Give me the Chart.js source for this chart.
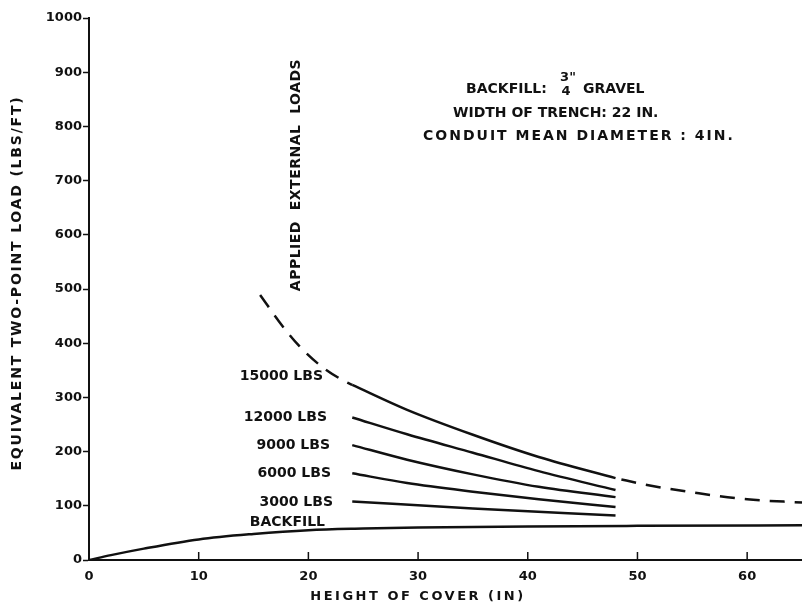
<!DOCTYPE html>
<html>
<head>
<meta charset="utf-8">
<script src="https://cdn.jsdelivr.net/npm/chart.js@4.4.1/dist/chart.umd.min.js"></script>
<style>
  body { margin: 0; background: #fff; }
  #wrap { width: 802px; height: 606px; }
</style>
</head>
<body>
<div id="wrap"><canvas id="loadChart" width="802" height="606"></canvas></div>
<script>
// height of cover (in) vs equivalent two-point load (lbs/ft)
const backfillX = [0, 2, 5, 10, 15, 20, 25, 30, 40, 50, 65];
const backfillY = [0, 9, 21, 38, 48, 55, 58, 60, 62, 63, 64];

// 15000 lbs curve - dashed outside the 24..48 in range
const load15000X = [15.6, 17.7, 19.2, 21.2, 23.1, 24, 29, 35, 41, 48, 51, 55.6, 60, 65];
const load15000Y = [489, 430, 394, 357, 332, 323, 277, 231, 190, 151, 138, 123, 112, 106];

const coverX = [24, 29, 35, 41, 48];
const load12000Y = [263, 232, 198, 164, 129];
const load9000Y = [212, 185, 158, 135, 116];
const load6000Y = [160, 142, 126, 112, 98];
const load3000X = [24, 35, 48];
const load3000Y = [108, 95, 82];

const xTicks = [0, 10, 20, 30, 40, 50, 60];
const curveLabels = ['15000 LBS', '12000 LBS', '9000 LBS', '6000 LBS', '3000 LBS', 'BACKFILL'];

const FONT = '"DejaVu Sans", sans-serif';
const DASH = [15, 10];

function pts(xs, ys) {
  return xs.map((x, i) => ({ x: x, y: ys[i] }));
}

function curve(label, data, extra) {
  return Object.assign({
    label: label,
    data: data,
    showLine: true,
    borderColor: '#111',
    borderWidth: 2.5,
    pointRadius: 0,
    fill: false,
    cubicInterpolationMode: 'monotone'
  }, extra || {});
}

const p15000 = pts(load15000X, load15000Y);

// text on the figure + inward ticks on the x axis
const figureText = {
  id: 'figureText',
  afterDraw(chart) {
    const ctx = chart.ctx;
    const xs = chart.scales.x;
    const area = chart.chartArea;
    ctx.save();
    ctx.fillStyle = '#111';
    ctx.strokeStyle = '#111';

    // x ticks point up into the plot
    ctx.lineWidth = 1.5;
    xTicks.forEach(v => {
      if (v === 0) return;
      const px = xs.getPixelForValue(v);
      ctx.beginPath();
      ctx.moveTo(px, area.bottom);
      ctx.lineTo(px, area.bottom - 8);
      ctx.stroke();
    });

    // curve labels
    ctx.font = 'bold 14px ' + FONT;
    ctx.textAlign = 'right';
    ctx.textBaseline = 'middle';
    const labelPos = [[323, 376], [327, 417], [330, 445], [331, 473], [333, 502], [325, 522]];
    curveLabels.forEach((t, i) => ctx.fillText(t, labelPos[i][0], labelPos[i][1]));

    // notes
    ctx.textAlign = 'left';
    ctx.fillText('BACKFILL:', 466, 89);
    ctx.font = 'bold 13px ' + FONT;
    ctx.textAlign = 'center';
    ctx.fillText('3"', 568, 78);
    ctx.fillText('4', 566, 92);
    ctx.textAlign = 'left';
    ctx.font = 'bold 14px ' + FONT;
    ctx.fillText('GRAVEL', 583, 89);
    ctx.fillText('WIDTH OF TRENCH: 22 IN.', 453, 113);
    ctx.letterSpacing = '2px';
    ctx.fillText('CONDUIT MEAN DIAMETER : 4IN.', 423, 136);

    ctx.translate(296, 175);
    ctx.rotate(-Math.PI / 2);
    ctx.textAlign = 'center';
    ctx.letterSpacing = '0.5px';
    ctx.fillText('APPLIED  EXTERNAL  LOADS', 0, 0);
    ctx.restore();

    // axis titles
    ctx.save();
    ctx.fillStyle = '#111';
    ctx.font = 'bold 13px ' + FONT;
    ctx.textAlign = 'center';
    ctx.textBaseline = 'middle';
    ctx.letterSpacing = '2.5px';
    ctx.fillText('HEIGHT OF COVER (IN)', 418, 597);
    ctx.translate(17, 283);
    ctx.rotate(-Math.PI / 2);
    ctx.font = 'bold 14px ' + FONT;
    ctx.letterSpacing = '1.8px';
    ctx.fillText('EQUIVALENT TWO-POINT LOAD (LBS/FT)', 0, 0);
    ctx.restore();
  }
};

const ctx = document.getElementById('loadChart').getContext('2d');
new Chart(ctx, {
  type: 'scatter',
  data: {
    datasets: [
      curve('BACKFILL', pts(backfillX, backfillY)),
      curve('15000 LBS (extrapolated)', p15000.filter(p => p.x <= 24), { borderDash: DASH }),
      curve('15000 LBS', p15000.filter(p => p.x >= 24 && p.x <= 48)),
      curve('15000 LBS (extrapolated)', p15000.filter(p => p.x >= 48), { borderDash: DASH, borderDashOffset: -6 }),
      curve('12000 LBS', pts(coverX, load12000Y)),
      curve('9000 LBS', pts(coverX, load9000Y)),
      curve('6000 LBS', pts(coverX, load6000Y)),
      curve('3000 LBS', pts(load3000X, load3000Y))
    ]
  },
  options: {
    responsive: false,
    animation: false,
    devicePixelRatio: 1,
    layout: { padding: { top: 18, right: 0, left: 0, bottom: 0 } },
    plugins: {
      legend: { display: false },
      tooltip: { enabled: false }
    },
    scales: {
      x: {
        type: 'linear',
        min: 0,
        max: 65,
        afterFit: s => { s.height = 46; },
        border: { color: '#111', width: 2 },
        grid: { drawOnChartArea: false, drawTicks: false },
        ticks: {
          stepSize: 10,
          includeBounds: false,
          padding: 9,
          color: '#111',
          font: { family: FONT, size: 13, weight: 'bold' }
        }
      },
      y: {
        min: 0,
        max: 1000,
        afterFit: s => { s.width = 89; },
        border: { color: '#111', width: 2 },
        grid: { drawOnChartArea: false, tickLength: 6, tickColor: '#111', tickWidth: 1.5 },
        ticks: {
          stepSize: 100,
          padding: 1,
          color: '#111',
          callback: v => String(v),
          font: { family: FONT, size: 13, weight: 'bold' }
        }
      }
    }
  },
  plugins: [figureText]
});
</script>
</body>
</html>
